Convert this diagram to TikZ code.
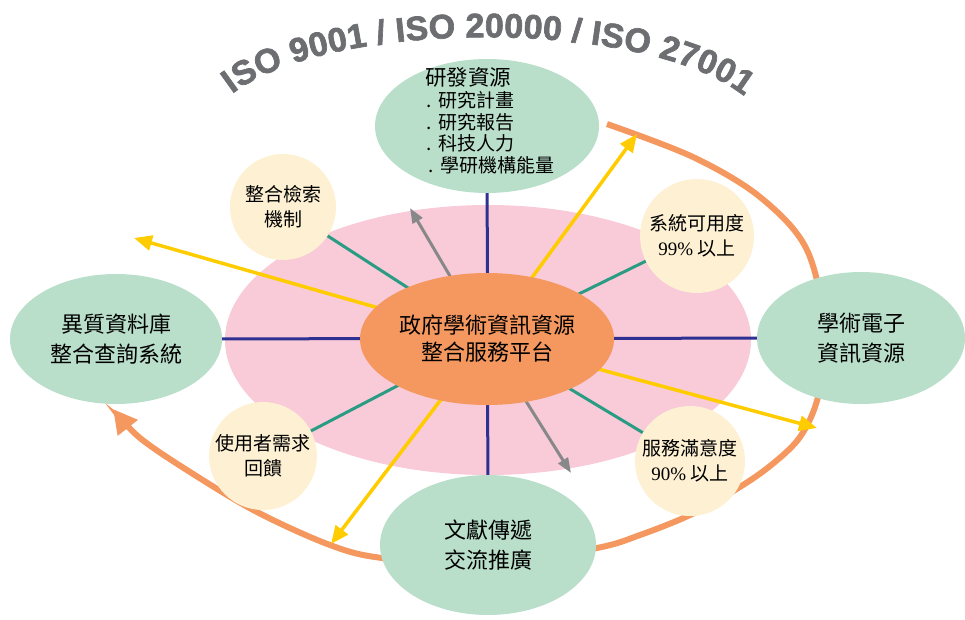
\documentclass[tikz,border=0pt]{standalone}
\usepackage{fontspec}
\setmainfont{Noto Sans CJK TC}
\newfontfamily\lserif{Liberation Serif}
\newfontfamily\isofont{Liberation Sans}[BoldFeatures={FakeBold=2}]
\usetikzlibrary{shapes.geometric,arrows.meta,decorations.text}
\pgfdeclarelayer{bg}\pgfdeclarelayer{mid}\pgfsetlayers{bg,mid,main}
\definecolor{cpink}{HTML}{F9CAD7}
\definecolor{corange}{HTML}{F4985F}
\definecolor{cgreen}{HTML}{B9DFCB}
\definecolor{ccream}{HTML}{FDF0D3}
\definecolor{cnavy}{HTML}{2E3192}
\definecolor{cteal}{HTML}{2A9C83}
\definecolor{cyellow}{HTML}{FFCC00}
\definecolor{cgrey}{HTML}{86888A}
\definecolor{isogray}{HTML}{6D6E71}
\tikzset{
  greenell/.style={ellipse, fill=cgreen, inner sep=0pt, align=center, font=\fontsize{22}{30.5}\selectfont},
  creamcirc/.style={circle, fill=ccream, inner sep=0pt, align=center, minimum size=110pt, font=\fontsize{19}{25}\selectfont},
  navyspoke/.style={draw=cnavy, line width=3pt},
  tealspoke/.style={draw=cteal, line width=3pt},
  yarrow/.style={draw=cyellow, line width=3.5pt, -{Triangle[length=18pt,width=15pt]}},
  garrow/.style={draw=cgrey, line width=3pt, -{Triangle[length=15pt,width=11pt]}},
  ringline/.style={draw=corange, line width=6pt, -{Triangle[length=24pt,width=24pt]}},
}
\begin{document}
\begin{tikzpicture}[x=1pt,y=-1pt]
\useasboundingbox (0,0) rectangle (965,619);

% title along arc
\coordinate (tl) at (232,94);
\coordinate (tr) at (744,96);
\path[postaction={decorate}, decoration={text along path, text align=fit to path, text color=isogray,
  text={|\isofont\bfseries\fontsize{34}{34}\selectfont|ISO 9001 / ISO 20000 / ISO 27001}}]
  (tl) .. controls (330,18) and (646,18) .. (tr);

% main nodes
\node[ellipse, fill=corange, inner sep=0pt, minimum width=254pt, minimum height=132pt, align=center,
  font=\fontsize{22}{27}\selectfont] (ctr) at (487,339) {政府學術資訊資源\\整合服務平台};
\node[greenell, minimum width=224pt, minimum height=134pt] (res) at (487,126) {};
\node[align=left, inner sep=0pt, font=\fontsize{19}{21.7}\selectfont] (restext) at (490,121)
  {{\fontsize{21.5}{21.7}\selectfont 研發資源}\\
   \hspace*{1pt}.\hspace*{7pt}研究計畫\\
   \hspace*{1pt}.\hspace*{7pt}研究報告\\
   \hspace*{1pt}.\hspace*{7pt}科技人力\\
   \hspace*{3pt}.\hspace*{7pt}學研機構能量};
\node[greenell, minimum width=212pt, minimum height=130pt] (left) at (116,339) {異質資料庫\\整合查詢系統};
\node[greenell, minimum width=208pt, minimum height=132pt] (right) at (861,338) {學術電子\\資訊資源};
\node[greenell, minimum width=216pt, minimum height=140pt] (bottom) at (488,545) {文獻傳遞\\交流推廣};

\node[creamcirc, minimum size=106pt] (c1) at (283,207) {整合檢索\\機制};
\node[creamcirc, minimum size=114pt] (c2) at (697,236) {系統可用度\\{\lserif 99\%} 以上};
\node[creamcirc, minimum size=108pt] (c3) at (263,456) {使用者需求\\回饋};
\node[creamcirc, minimum size=110pt] (c4) at (690,461) {服務滿意度\\{\lserif 90\%} 以上};

% arrow tips
\coordinate (yA) at (134,238);
\coordinate (yB) at (637,134);
\coordinate (yC) at (817,428);
\coordinate (yD) at (331,544);
\coordinate (gA) at (410,208);
\coordinate (gB) at (571,473);

\begin{pgfonlayer}{bg}
  \node[ellipse, fill=cpink, minimum width=526pt, minimum height=270pt, inner sep=0pt] (pink) at (488,340) {};
  \draw[ringline] plot[smooth, tension=0.55] coordinates {(607,124) (693,157) (760,197) (807,250) (826,335)
    (818,397) (800,437) (770,466) (735,490) (690,515) (640,535) (597,548) (488,566) (382,558)
    (330,545) (257,512) (190,472) (140,438) (113,409)};
\end{pgfonlayer}

\begin{pgfonlayer}{mid}
  \draw[navyspoke] (left.center) -- (right.center);
  \draw[navyspoke] (res.center) -- (bottom.center);
  \draw[tealspoke] (c1.center) -- (ctr.center);
  \draw[tealspoke] (c2.center) -- (ctr.center);
  \draw[tealspoke] (c3.center) -- (ctr.center);
  \draw[tealspoke] (c4.center) -- (ctr.center);
  \draw[yarrow] (ctr.center) -- (yA);
  \draw[yarrow] (ctr.center) -- (yB);
  \draw[yarrow] (ctr.center) -- (yC);
  \draw[yarrow] (ctr.center) -- (yD);
  \draw[garrow] (ctr.center) -- (gA);
  \draw[garrow] (ctr.center) -- (gB);
\end{pgfonlayer}
\end{tikzpicture}
\end{document}
